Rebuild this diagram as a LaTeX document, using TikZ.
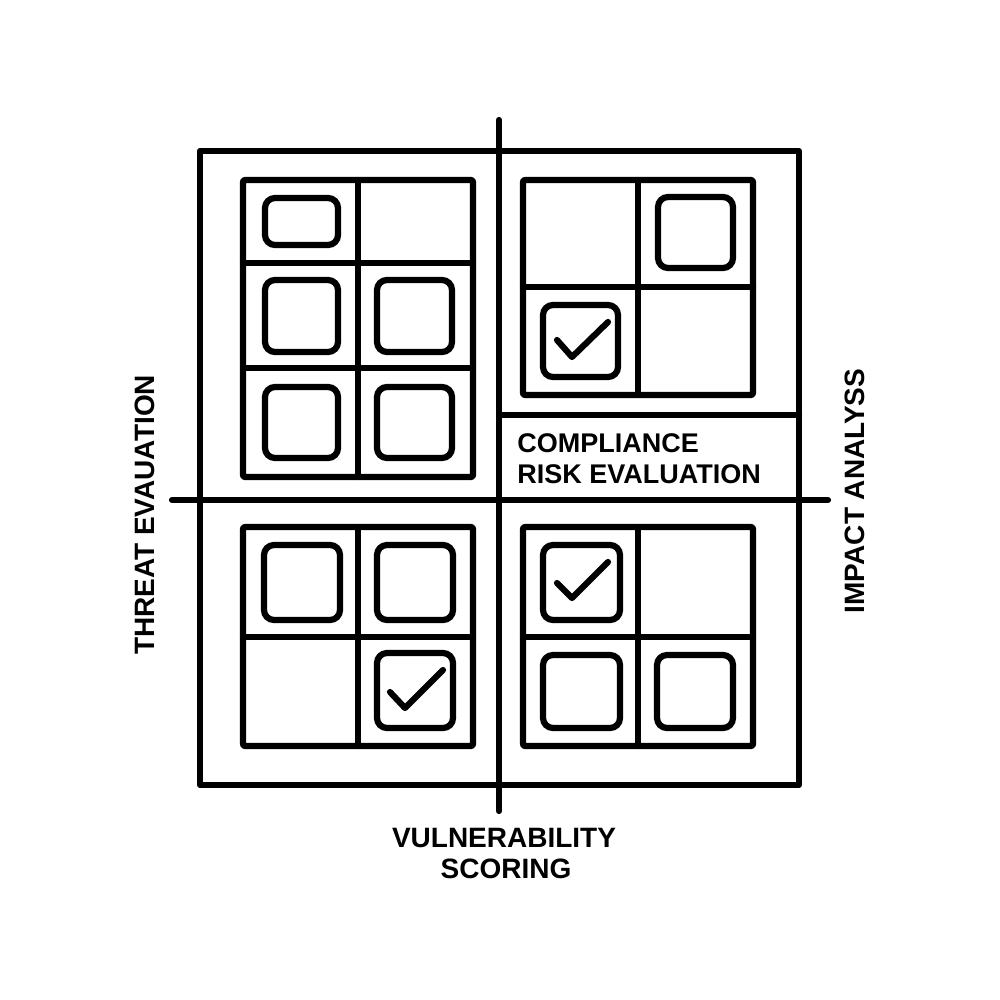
\documentclass[tikz,border=0pt]{standalone}
\usepackage{fontspec}
\setmainfont{Liberation Sans}
\begin{document}
\begin{tikzpicture}[x=0.5pt,y=-0.5pt,
  heavy/.style={line width=3.1pt,line cap=round,line join=round},
  gridbox/.style={heavy,rounded corners=1pt},
  cellbox/.style={line width=3.1pt,rounded corners=5pt},
  tick/.style={line width=3.1pt,line cap=round,line join=round},
  lbl/.style={font=\bfseries\fontsize{13.5pt}{16pt}\selectfont,inner sep=0pt,align=center},
  biglbl/.style={lbl,font=\bfseries\fontsize{14pt}{16pt}\selectfont}]
\useasboundingbox (0,0) rectangle (1000,1000);
% outer frame
\draw[heavy] (200,151) rectangle (799,785);
\draw[heavy] (499,415) -- (799,415);
% axes
\coordinate (vt) at (499,120);
\coordinate (vb) at (499,811);
\coordinate (hl) at (172,500);
\coordinate (hr) at (828,500);
\draw[heavy] (vt) -- (vb);
\draw[heavy] (hl) -- (hr);
% top-left grid
\draw[gridbox] (243,180) rectangle (473,477);
\draw[heavy] (358,180) -- (358,477);
\draw[heavy] (243,263) -- (473,263);
\draw[heavy] (243,368) -- (473,368);
\draw[cellbox] (265,198) rectangle (338,245);
\draw[cellbox] (265,280) rectangle (338,352);
\draw[cellbox] (377,280) rectangle (452,352);
\draw[cellbox] (265,387) rectangle (338,458);
\draw[cellbox] (377,387) rectangle (452,458);
% top-right grid
\draw[gridbox] (523,180) rectangle (753,395);
\draw[heavy] (638,180) -- (638,395);
\draw[heavy] (523,287) -- (753,287);
\draw[cellbox] (658,197) rectangle (733,268);
\draw[cellbox] (543,305) rectangle (618,377);
\draw[tick] (557,340) -- (572,357) -- (608,322);
% bottom-left grid
\draw[gridbox] (243,527) rectangle (473,746);
\draw[heavy] (358,527) -- (358,746);
\draw[heavy] (243,637) -- (473,637);
\draw[cellbox] (264,545) rectangle (340,620);
\draw[cellbox] (377,545) rectangle (453,620);
\draw[cellbox] (377,653) rectangle (453,728);
\draw[tick] (390,692) -- (405,708) -- (443,670);
% bottom-right grid
\draw[gridbox] (523,527) rectangle (753,746);
\draw[heavy] (638,527) -- (638,746);
\draw[heavy] (523,637) -- (753,637);
\draw[cellbox] (543,545) rectangle (620,620);
\draw[tick] (557,583) -- (572,598) -- (608,562);
\draw[cellbox] (543,655) rectangle (620,728);
\draw[cellbox] (657,655) rectangle (733,728);
% labels
\node[lbl,anchor=base west] (c1) at (517,452) {COMPLIANCE};
\node[lbl,anchor=base west] (c2) at (517,483) {RISK EVALUATION};
\node[biglbl,rotate=90] (te) at (145,515) {THREAT EVAUATION};
\node[biglbl,rotate=90] (ia) at (855,491) {IMPACT ANALYSS};
\node[biglbl,anchor=base] (v1) at (504,847) {VULNERABILITY};
\node[biglbl,anchor=base] (v2) at (506,878) {SCORING};
\end{tikzpicture}
\end{document}
